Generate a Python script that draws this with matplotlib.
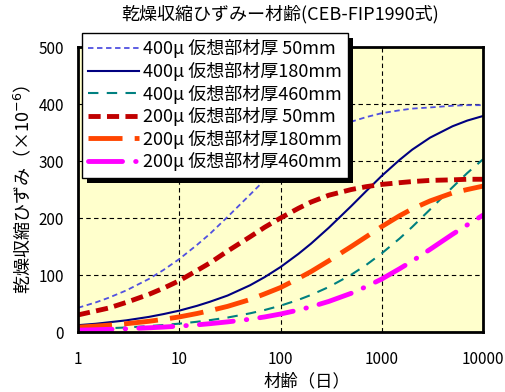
import matplotlib.pyplot as plt
from matplotlib.patches import Rectangle
from matplotlib.transforms import IdentityTransform

plt.rcParams['font.family'] = ['Noto Sans CJK JP', 'DejaVu Sans']

# material age (days)
days = [1, 1.5, 2, 3, 5, 7, 10, 15, 20, 30, 50, 70, 100, 150, 200, 300, 500, 700,
        1000, 1500, 2000, 3000, 5000, 7000, 10000]

s400_50 = [42.5, 52, 60, 73, 93, 109, 128, 153, 172, 202, 241, 267, 292, 318, 334, 352,
           369, 377, 384, 389, 392, 394, 397, 398, 398]
s400_180 = [12, 14.5, 17, 20.5, 26.5, 31.5, 37.5, 46, 53, 64, 82, 96.5, 114, 137, 155, 183,
            221, 247, 274, 302, 320, 341, 361, 371, 379]
s400_460 = [4.6, 5.7, 6.6, 8, 10.4, 12.3, 14.7, 18, 20.8, 25.4, 32.8, 38.7, 46.2, 56.4, 65,
            79, 100.6, 117.5, 138, 164, 184.4, 215, 254, 279, 303]
s200_50 = [30, 37, 42, 52, 66, 77, 90, 108, 121, 142, 167, 184, 200, 217, 228, 240, 250,
           255, 259, 262, 264, 266, 267, 268, 268]
s200_180 = [8.5, 10.4, 12, 14.6, 18.8, 22.3, 26.5, 32.5, 37.4, 45, 57, 67, 78, 94, 106, 125,
            150, 167, 185, 204, 216, 230, 244, 250, 256]
s200_460 = [3.3, 4, 4.7, 5.7, 7.4, 8.7, 10.4, 12.6, 14.6, 17.8, 22.5, 26.5, 31.6, 38.5, 44.3,
            53.7, 68, 79.5, 93, 111, 124.5, 145, 171.5, 188, 205]

labels = ["400\u03bc 仮想部材厚 50mm", "400\u03bc 仮想部材厚180mm", "400\u03bc 仮想部材厚460mm",
          "200\u03bc 仮想部材厚 50mm", "200\u03bc 仮想部材厚180mm", "200\u03bc 仮想部材厚460mm"]

fig = plt.figure(figsize=(5.05, 3.92), dpi=100)
ax = fig.add_axes([0.1545, 0.153, 0.8019, 0.727])
ax.set_facecolor('#FFFFCC')

ax.plot(days, s400_50, color='#5050E0', lw=1.3, dashes=(3, 2), label=labels[0])
ax.plot(days, s400_180, color='#000080', lw=1.5, label=labels[1])
ax.plot(days, s400_460, color='#008080', lw=1.5, dashes=(5, 4), label=labels[2])
ax.plot(days, s200_50, color='#C00000', lw=3.5, dashes=(2.5, 1.3), label=labels[3])
ax.plot(days, s200_180, color='#FF4500', lw=3.5, dashes=(7, 2.5), label=labels[4])
ax.plot(days, s200_460, color='#FF00FF', lw=3.5, dashes=(7, 2.7, 0.1, 2.7),
        dash_capstyle='round', label=labels[5])

ax.set_xscale('log')
ax.set_xlim(1, 10000)
ax.set_ylim(0, 500)
ax.set_xticks([1, 10, 100, 1000, 10000])
ax.set_xticklabels(['1', '10', '100', '1000', '10000'])
ax.set_yticks([0, 100, 200, 300, 400, 500])
ax.minorticks_off()
ax.tick_params(length=0, labelsize=11)
ax.tick_params(axis='x', pad=14)
ax.tick_params(axis='y', pad=10)
ax.grid(True, color='black', ls=(0, (4, 3)), lw=0.8)
ax.set_axisbelow(True)
for sp in ax.spines.values():
    sp.set_linewidth(2)

ax.set_title("乾燥収縮ひずみー材齢(CEB-FIP1990式)", fontsize=13, pad=20)
ax.set_xlabel("材齢（日）", fontsize=12.5, labelpad=2)
ax.xaxis.set_label_coords(0.565, -0.14)
ax.set_ylabel("乾燥収縮ひずみ（×10$^{-6}$）", fontsize=13, labelpad=4)

leg = ax.legend(loc='upper left', bbox_to_anchor=(0.162, 0.916), bbox_transform=fig.transFigure,
                borderaxespad=0, fontsize=13, handlelength=2.8, handletextpad=0.25,
                labelspacing=0.2, borderpad=0.35, fancybox=False, edgecolor='black',
                framealpha=1)
leg.get_frame().set_linewidth(1)

# thick black drop shadow behind the legend box
fig.canvas.draw()
bb = leg.get_window_extent()
ax.add_patch(Rectangle((bb.x0 + 5, bb.y0 - 5), bb.width, bb.height, transform=IdentityTransform(),
                       facecolor='black', edgecolor='none', zorder=4.9, clip_on=False))

fig.savefig("out.png", dpi=100)
